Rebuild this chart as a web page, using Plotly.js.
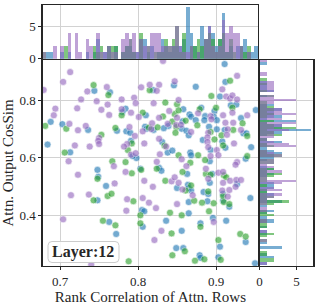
<!DOCTYPE html>
<html>
<head>
<meta charset="utf-8">
<script src="https://cdn.plot.ly/plotly-3.0.1.min.js"></script>
<style>
html,body{margin:0;padding:0;background:#fff;}
#chart{width:319px;height:305px;}
</style>
</head>
<body>
<div id="chart"></div>
<script>
// ---- data ----
const purpleX = [0.713,0.704,0.679,0.735,0.760,0.727,0.747,0.761,0.694,0.722,0.753,0.692,0.763,0.712,0.733,0.723,0.750,0.749,0.750,0.719,0.738,0.711,
0.832,0.815,0.827,0.847,0.804,0.824,0.779,0.795,0.797,0.820,0.852,0.779,0.791,0.801,0.827,0.840,0.850,0.838,0.849,0.855,0.789,0.818,0.817,0.806,0.796,0.786,0.782,0.808,0.827,0.836,0.828,0.791,0.797,0.856,0.824,
0.927,0.908,0.913,0.918,0.921,0.927,0.877,0.893,0.894,0.909,0.921,0.940,0.912,0.922,0.868,0.890,0.915,0.914,0.932,0.889,0.889,0.923,0.890,0.901,0.903,0.893,0.927,
0.723,0.770,0.714,0.737,0.704,0.740,
0.769,0.784,0.808,0.843,0.847,0.852,0.819,0.857,0.786,0.806,0.814,0.823,0.785,0.850,0.830,0.821,
0.862,0.887,0.890,0.903,0.909,0.909,0.918,0.926,0.925,0.932,0.925,0.870,0.915,0.908,0.917,0.897];
const purpleY = [0.898,0.864,0.836,0.831,0.846,0.803,0.797,0.785,0.771,0.772,0.767,0.748,0.749,0.718,0.711,0.696,0.669,0.659,0.648,0.643,0.639,0.588,
0.937,0.854,0.854,0.866,0.845,0.833,0.803,0.809,0.790,0.790,0.801,0.769,0.757,0.742,0.739,0.763,0.739,0.718,0.714,0.715,0.707,0.720,0.700,0.692,0.676,0.648,0.639,0.650,0.666,0.639,0.612,0.611,0.616,0.595,0.586,
0.885,0.838,0.813,0.806,0.817,0.803,0.755,0.745,0.734,0.748,0.757,0.748,0.722,0.722,0.690,0.687,0.699,0.680,0.697,0.671,0.655,0.650,0.637,0.627,0.609,0.606,0.585,
0.541,0.511,0.470,0.472,0.386,0.228,
0.571,0.551,0.520,0.518,0.532,0.513,0.499,0.490,0.456,0.460,0.444,0.425,0.416,0.439,0.346,0.314,
0.571,0.562,0.527,0.548,0.551,0.513,0.520,0.523,0.499,0.523,0.576,0.470,0.465,0.486,0.488,0.377];

const blueX = [0.744,0.764,0.688,0.703,0.736,0.684,0.713,
0.846,0.819,0.784,0.780,0.810,0.858,0.857,0.839,0.833,0.856,0.773,0.785,0.790,0.809,0.811,0.820,0.791,0.831,0.838,0.844,0.798,0.793,
0.911,0.912,0.874,0.905,0.919,0.926,0.951,0.881,0.898,0.866,0.868,0.886,0.885,0.897,0.901,0.932,0.874,0.891,0.901,0.862,0.865,0.911,0.935,0.939,0.883,0.908,0.912,0.945,0.893,0.867,0.868,0.938,0.892,
0.748,0.749,0.759,0.748,0.763,0.772,
0.803,0.827,0.830,0.850,0.805,0.808,0.836,0.806,0.856,0.849,0.858,
0.863,0.892,0.895,0.927,0.864,0.865,0.868,0.884,0.890,0.909,0.944,0.865,0.889,0.909,0.917,0.865,0.896,0.913,0.880,0.905,0.938,0.879,0.880,0.903,0.950];
const blueY = [0.833,0.828,0.725,0.717,0.697,0.646,0.619,
0.852,0.836,0.771,0.759,0.748,0.769,0.727,0.711,0.703,0.701,0.694,0.692,0.687,0.708,0.701,0.697,0.659,0.655,0.618,0.625,0.599,0.606,
0.926,0.864,0.847,0.813,0.783,0.785,0.766,0.774,0.763,0.751,0.743,0.745,0.731,0.743,0.731,0.738,0.731,0.708,0.699,0.694,0.678,0.697,0.685,0.685,0.662,0.657,0.635,0.637,0.627,0.618,0.609,0.597,0.588,
0.558,0.534,0.502,0.452,0.377,0.335,
0.562,0.565,0.555,0.495,0.418,0.414,0.381,0.360,0.346,0.286,0.286,
0.544,0.513,0.544,0.509,0.506,0.495,0.486,0.481,0.474,0.474,0.460,0.446,0.449,0.451,0.430,0.407,0.391,0.381,0.372,0.291,0.307,0.261,0.252,0.254,0.233];

const greenX = [0.743,0.762,0.681,0.708,0.753,0.706,0.767,
0.815,0.835,0.850,0.779,0.806,0.832,0.847,0.852,0.844,0.849,0.848,0.771,0.814,0.825,0.792,0.834,0.787,0.852,0.784,
0.918,0.894,0.921,0.879,0.900,0.934,0.861,0.876,0.893,0.922,0.907,0.940,0.898,0.909,0.877,0.940,0.886,
0.748,0.743,0.761,0.766,0.755,0.788,
0.792,0.804,0.824,0.835,0.857,0.794,0.841,0.803,0.856,0.803,0.771,0.843,0.860,0.844,
0.867,0.887,0.893,0.910,0.913,0.868,0.861,0.890,0.909,0.872,0.882,0.897,0.910,0.917,0.891,0.880,0.903,0.931,0.938,0.873,0.885,0.906];
const greenY = [0.853,0.818,0.711,0.701,0.680,0.618,0.588,
0.835,0.792,0.786,0.748,0.757,0.744,0.752,0.765,0.726,0.707,0.687,0.704,0.705,0.706,0.650,0.642,0.627,0.609,0.585,
0.868,0.815,0.774,0.769,0.774,0.720,0.729,0.713,0.690,0.697,0.678,0.676,0.664,0.643,0.609,0.606,0.592,
0.527,0.452,0.467,0.475,0.381,0.240,
0.546,0.558,0.562,0.520,0.551,0.449,0.409,0.400,0.400,0.372,0.365,0.337,0.275,0.261,
0.583,0.544,0.541,0.539,0.532,0.504,0.486,0.483,0.467,0.451,0.444,0.442,0.446,0.439,0.414,0.360,0.314,0.335,0.326,0.242,0.247,0.245];

const xTicks = [0.7, 0.8, 0.9];
const yTicks = [0.4, 0.6, 0.8];
const countTicks = [0, 5];
const panelLabel = 'Layer:12';
const xTitle = 'Rank Correlation of Attn. Rows';
const yTitle = 'Attn. Output CosSim';

// ---- styles ----
const BLUE = '#1f77b4', GREEN = '#2ca02c', PURPLE = '#9467bd';
const FONT = 'Liberation Serif, Times New Roman, serif';
const TXT = '#262626';
const XR = [0.6778, 0.9538], YR = [0.2237, 0.9402];

const series = [
  {name:'blue', x: blueX, y: blueY, c: BLUE},
  {name:'green', x: greenX, y: greenY, c: GREEN},
  {name:'purple', x: purpleX, y: purpleY, c: PURPLE},
];

const traces = [];
series.forEach(s => {
  traces.push({type:'histogram', x: s.x, xaxis:'x2', yaxis:'y2',
    xbins:{start:0.6775, end:0.96, size:0.0046},
    marker:{color:s.c, line:{width:0}}, opacity:0.6, showlegend:false, hoverinfo:'skip'});
  traces.push({type:'histogram', y: s.y, xaxis:'x3', yaxis:'y3', orientation:'h',
    ybins:{start:0.22, end:0.95, size:0.008},
    marker:{color:s.c, line:{width:0}}, opacity:0.6, showlegend:false, hoverinfo:'skip'});
});
series.forEach(s => {
  traces.push({type:'scatter', mode:'markers', x: s.x, y: s.y, xaxis:'x', yaxis:'y',
    marker:{color:s.c, size:7, opacity:0.62, line:{color:'#ffffff', width:0.6}},
    showlegend:false, name:s.name});
});

const axBase = {
  showline:true, mirror:true, linecolor:'#262626', linewidth:1.3,
  showgrid:true, gridcolor:'#d2d2d2', gridwidth:1, zeroline:false,
  ticks:'outside', ticklen:3, tickwidth:1, tickcolor:'#262626',
  tickfont:{family:FONT, size:13, color:TXT}
};

// rounded label box (paper coords)
const bx0 = 0.1505, bx1 = 0.3730, by0 = 0.1393, by1 = 0.2082, rx = 0.0125, ry = 0.0131;
const boxPath = `M ${bx0+rx},${by0} L ${bx1-rx},${by0} Q ${bx1},${by0} ${bx1},${by0+ry} L ${bx1},${by1-ry} Q ${bx1},${by1} ${bx1-rx},${by1} L ${bx0+rx},${by1} Q ${bx0},${by1} ${bx0},${by1-ry} L ${bx0},${by0+ry} Q ${bx0},${by0} ${bx0+rx},${by0} Z`;

const layout = {
  width:319, height:305,
  margin:{l:0, r:0, t:0, b:0},
  paper_bgcolor:'#fff', plot_bgcolor:'#fff',
  barmode:'overlay', bargap:0,
  showlegend:false,
  xaxis: Object.assign({}, axBase, {domain:[0.1339,0.8088], range:XR, anchor:'y',
    tickvals:xTicks, ticktext:xTicks.map(v=>v.toFixed(1)),
    title:{text:xTitle, font:{family:FONT, size:15, color:TXT}}}),
  yaxis: Object.assign({}, axBase, {domain:[0.1279,0.8033], range:YR, anchor:'x',
    tickvals:yTicks, ticktext:yTicks.map(v=>v.toFixed(1)),
    title:{text:yTitle, font:{family:FONT, size:15, color:TXT}}}),
  xaxis2: Object.assign({}, axBase, {domain:[0.1339,0.8088], range:XR, anchor:'y2',
    tickvals:xTicks, showticklabels:false, ticks:''}),
  yaxis2: Object.assign({}, axBase, {domain:[0.8075,0.9836], range:[0,8.3], anchor:'x2',
    tickvals:countTicks}),
  xaxis3: Object.assign({}, axBase, {domain:[0.8135,0.9821], range:[0,7.27], anchor:'y3',
    tickvals:countTicks}),
  yaxis3: Object.assign({}, axBase, {domain:[0.1279,0.8033], range:YR, anchor:'x3',
    tickvals:yTicks, showticklabels:false, ticks:''}),
  shapes:[{type:'path', xref:'paper', yref:'paper', path:boxPath, layer:'above',
    fillcolor:'rgba(255,255,255,0.85)', line:{color:'#cccccc', width:1}}],
  annotations:[{
    xref:'paper', yref:'paper', x:(bx0+bx1)/2, y:(by0+by1)/2, xanchor:'center', yanchor:'middle',
    text:'<b>'+panelLabel+'</b>', showarrow:false,
    font:{family:FONT, size:16, color:TXT}
  }]
};

Plotly.newPlot('chart', traces, layout, {displayModeBar:false, staticPlot:true});
</script>
</body>
</html>
